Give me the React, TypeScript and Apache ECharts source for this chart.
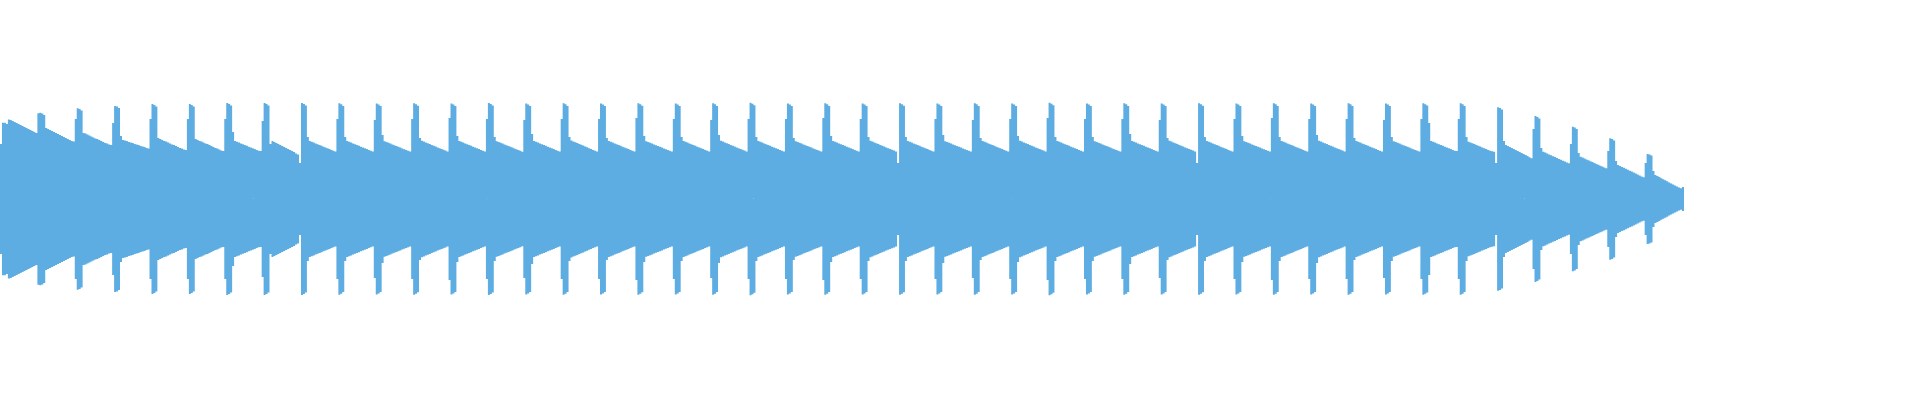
import React, { useEffect, useRef } from "react";
import * as echarts from "echarts";

// Peak amplitude of each sample bucket (0..1), one line per beat.
const peaks: number[] = [
  0.55, 0.763, 0.763, 0.75, 0.795, 0.79, 0.78, 0.77, 0.76, 0.75, 0.74, 0.73, 0.72, 0.71, 0.70, 0.69, 0.68, 0.67, 0.66,
  0.857, 0.863, 0.855, 0.84, 0.71, 0.70, 0.69, 0.68, 0.67, 0.66, 0.65, 0.64, 0.63, 0.62, 0.61, 0.60, 0.59, 0.58, 0.575,
  0.80, 0.907, 0.90, 0.885, 0.66, 0.655, 0.645, 0.635, 0.625, 0.615, 0.605, 0.60, 0.59, 0.58, 0.57, 0.56, 0.555, 0.545, 0.54,
  0.76, 0.93, 0.925, 0.91, 0.63, 0.59, 0.585, 0.58, 0.57, 0.565, 0.56, 0.55, 0.545, 0.54, 0.53, 0.525, 0.52, 0.51, 0.505,
  0.80, 0.95, 0.94, 0.925, 0.61, 0.60, 0.59, 0.58, 0.575, 0.565, 0.555, 0.545, 0.54, 0.53, 0.52, 0.51, 0.505, 0.495, 0.49,
  0.80, 0.95, 0.94, 0.925, 0.60, 0.59, 0.58, 0.575, 0.565, 0.555, 0.55, 0.54, 0.53, 0.52, 0.51, 0.505, 0.495, 0.485, 0.48,
  0.80, 0.96, 0.95, 0.935, 0.67, 0.58, 0.572, 0.564, 0.556, 0.548, 0.54, 0.532, 0.523, 0.515, 0.507, 0.499, 0.491, 0.483, 0.48,
  0.78, 0.96, 0.95, 0.935, 0.55, 0.58, 0.57, 0.56, 0.55, 0.54, 0.53, 0.52, 0.51, 0.50, 0.49, 0.48, 0.47, 0.455, 0.445,
  0.36, 0.96, 0.95, 0.935, 0.62, 0.58, 0.572, 0.564, 0.556, 0.548, 0.54, 0.532, 0.523, 0.515, 0.507, 0.499, 0.491, 0.483, 0.475,
  0.80, 0.957, 0.947, 0.93, 0.62, 0.58, 0.572, 0.564, 0.556, 0.548, 0.54, 0.532, 0.523, 0.515, 0.507, 0.499, 0.491, 0.483, 0.475,
  0.79, 0.955, 0.945, 0.93, 0.64, 0.578, 0.57, 0.562, 0.554, 0.546, 0.538, 0.53, 0.522, 0.514, 0.506, 0.498, 0.49, 0.482, 0.474,
  0.80, 0.958, 0.948, 0.932, 0.61, 0.582, 0.574, 0.566, 0.558, 0.55, 0.541, 0.533, 0.524, 0.516, 0.508, 0.5, 0.492, 0.484, 0.476,
  0.81, 0.955, 0.945, 0.93, 0.63, 0.58, 0.572, 0.564, 0.556, 0.548, 0.54, 0.532, 0.523, 0.515, 0.507, 0.499, 0.491, 0.483, 0.475,
  0.80, 0.96, 0.95, 0.935, 0.62, 0.578, 0.57, 0.562, 0.554, 0.546, 0.538, 0.53, 0.522, 0.514, 0.506, 0.498, 0.49, 0.482, 0.473,
  0.79, 0.955, 0.945, 0.93, 0.65, 0.58, 0.572, 0.564, 0.556, 0.548, 0.54, 0.532, 0.523, 0.515, 0.507, 0.499, 0.491, 0.483, 0.475,
  0.80, 0.957, 0.947, 0.93, 0.62, 0.585, 0.576, 0.568, 0.559, 0.551, 0.542, 0.534, 0.525, 0.517, 0.508, 0.5, 0.491, 0.483, 0.475,
  0.80, 0.955, 0.945, 0.93, 0.61, 0.58, 0.572, 0.564, 0.556, 0.548, 0.54, 0.532, 0.523, 0.515, 0.507, 0.499, 0.491, 0.483, 0.475,
  0.81, 0.958, 0.948, 0.932, 0.63, 0.578, 0.57, 0.562, 0.554, 0.546, 0.538, 0.53, 0.522, 0.514, 0.506, 0.498, 0.49, 0.482, 0.474,
  0.80, 0.955, 0.945, 0.93, 0.62, 0.58, 0.572, 0.564, 0.556, 0.548, 0.54, 0.532, 0.523, 0.515, 0.507, 0.499, 0.491, 0.483, 0.475,
  0.79, 0.957, 0.947, 0.93, 0.64, 0.582, 0.574, 0.566, 0.558, 0.55, 0.541, 0.533, 0.524, 0.516, 0.508, 0.5, 0.492, 0.484, 0.476,
  0.80, 0.962, 0.952, 0.937, 0.62, 0.58, 0.572, 0.564, 0.556, 0.548, 0.54, 0.532, 0.523, 0.515, 0.507, 0.499, 0.491, 0.483, 0.475,
  0.80, 0.955, 0.945, 0.93, 0.61, 0.578, 0.57, 0.562, 0.554, 0.546, 0.538, 0.53, 0.522, 0.514, 0.506, 0.498, 0.49, 0.482, 0.474,
  0.81, 0.957, 0.947, 0.93, 0.63, 0.58, 0.572, 0.564, 0.556, 0.548, 0.54, 0.532, 0.523, 0.515, 0.507, 0.499, 0.491, 0.483, 0.475,
  0.80, 0.955, 0.945, 0.93, 0.62, 0.582, 0.574, 0.566, 0.558, 0.55, 0.541, 0.533, 0.524, 0.516, 0.508, 0.5, 0.492, 0.484, 0.476,
  0.36, 0.958, 0.948, 0.932, 0.62, 0.58, 0.572, 0.564, 0.556, 0.548, 0.54, 0.532, 0.523, 0.515, 0.507, 0.499, 0.491, 0.483, 0.475,
  0.80, 0.955, 0.945, 0.93, 0.64, 0.578, 0.57, 0.562, 0.554, 0.546, 0.538, 0.53, 0.522, 0.514, 0.506, 0.498, 0.49, 0.482, 0.474,
  0.79, 0.957, 0.947, 0.93, 0.61, 0.58, 0.572, 0.564, 0.556, 0.548, 0.54, 0.532, 0.523, 0.515, 0.507, 0.499, 0.491, 0.483, 0.475,
  0.80, 0.955, 0.945, 0.93, 0.63, 0.582, 0.574, 0.566, 0.558, 0.55, 0.541, 0.533, 0.524, 0.516, 0.508, 0.5, 0.492, 0.484, 0.476,
  0.81, 0.962, 0.952, 0.937, 0.62, 0.58, 0.572, 0.564, 0.556, 0.548, 0.54, 0.532, 0.523, 0.515, 0.507, 0.499, 0.491, 0.483, 0.475,
  0.80, 0.955, 0.945, 0.93, 0.62, 0.578, 0.57, 0.562, 0.554, 0.546, 0.538, 0.53, 0.522, 0.514, 0.506, 0.498, 0.49, 0.482, 0.474,
  0.80, 0.957, 0.947, 0.93, 0.65, 0.58, 0.572, 0.564, 0.556, 0.548, 0.54, 0.532, 0.523, 0.515, 0.507, 0.499, 0.491, 0.483, 0.475,
  0.79, 0.955, 0.945, 0.93, 0.61, 0.582, 0.574, 0.566, 0.558, 0.55, 0.541, 0.533, 0.524, 0.516, 0.508, 0.5, 0.492, 0.484, 0.476,
  0.36, 0.958, 0.948, 0.932, 0.62, 0.58, 0.572, 0.564, 0.556, 0.548, 0.54, 0.532, 0.523, 0.515, 0.507, 0.499, 0.491, 0.483, 0.475,
  0.80, 0.955, 0.945, 0.93, 0.63, 0.578, 0.57, 0.562, 0.554, 0.546, 0.538, 0.53, 0.522, 0.514, 0.506, 0.498, 0.49, 0.482, 0.474,
  0.81, 0.957, 0.947, 0.93, 0.62, 0.58, 0.572, 0.564, 0.556, 0.548, 0.54, 0.532, 0.523, 0.515, 0.507, 0.499, 0.491, 0.483, 0.475,
  0.80, 0.955, 0.945, 0.93, 0.64, 0.582, 0.574, 0.566, 0.558, 0.55, 0.541, 0.533, 0.524, 0.516, 0.508, 0.5, 0.492, 0.484, 0.476,
  0.80, 0.957, 0.947, 0.93, 0.61, 0.58, 0.572, 0.564, 0.556, 0.548, 0.54, 0.532, 0.523, 0.515, 0.507, 0.499, 0.491, 0.483, 0.475,
  0.79, 0.955, 0.945, 0.93, 0.62, 0.578, 0.57, 0.562, 0.554, 0.546, 0.538, 0.53, 0.522, 0.514, 0.506, 0.498, 0.49, 0.482, 0.474,
  0.80, 0.957, 0.947, 0.935, 0.76, 0.58, 0.572, 0.564, 0.556, 0.548, 0.54, 0.532, 0.523, 0.515, 0.507, 0.499, 0.491, 0.483, 0.48,
  0.80, 0.957, 0.947, 0.93, 0.62, 0.573, 0.565, 0.557, 0.549, 0.541, 0.532, 0.524, 0.516, 0.507, 0.499, 0.49, 0.482, 0.478, 0.473,
  0.36, 0.917, 0.91, 0.895, 0.58, 0.54, 0.53, 0.52, 0.51, 0.50, 0.49, 0.48, 0.47, 0.46, 0.45, 0.44, 0.43, 0.418, 0.407,
  0.70, 0.83, 0.82, 0.805, 0.51, 0.473, 0.464, 0.455, 0.446, 0.437, 0.428, 0.419, 0.41, 0.401, 0.392, 0.383, 0.374, 0.366, 0.357,
  0.55, 0.723, 0.715, 0.70, 0.46, 0.423, 0.414, 0.405, 0.396, 0.387, 0.378, 0.369, 0.36, 0.351, 0.342, 0.333, 0.324, 0.316, 0.307,
  0.48, 0.607, 0.60, 0.585, 0.38, 0.34, 0.331, 0.321, 0.312, 0.302, 0.293, 0.283, 0.274, 0.264, 0.255, 0.245, 0.236, 0.226, 0.217,
  0.36, 0.45, 0.445, 0.435, 0.28, 0.24, 0.229, 0.219, 0.208, 0.198, 0.187, 0.177, 0.166, 0.156, 0.145, 0.135, 0.124, 0.114, 0.107,
  0.12,
];

// Sample-bucket indices used as categories (axis hidden).
const samples: string[] = peaks.map((_, i) => String(i));
// Mirrored lower half of the waveform.
const troughs: number[] = peaks.map((v) => -v);

const WAVE_COLOR = "#5DADE2";

export default function App() {
  const ref = useRef<HTMLDivElement>(null);

  useEffect(() => {
    if (!ref.current) return;
    const chart = echarts.init(ref.current, null, { renderer: "svg" });
    chart.setOption({
      animation: false,
      grid: { left: 0, right: 236, top: 0, bottom: 0, outerBoundsMode: "none", containLabel: false },
      xAxis: { type: "category", data: samples, show: false, boundaryGap: true },
      yAxis: { type: "value", min: -2, max: 2, show: false },
      series: [
        {
          type: "bar",
          data: peaks,
          large: true,
          largeThreshold: 100,
          barCategoryGap: "0%",
          barGap: "-100%",
          itemStyle: { color: WAVE_COLOR },
          silent: true,
        },
        {
          type: "bar",
          data: troughs,
          large: true,
          largeThreshold: 100,
          barCategoryGap: "0%",
          barGap: "-100%",
          itemStyle: { color: WAVE_COLOR },
          silent: true,
        },
      ],
    });
    return () => chart.dispose();
  }, []);

  return (
    <div
      ref={ref}
      style={{ position: "absolute", left: 0, top: -1, width: 1920, height: 400 }}
    />
  );
}
